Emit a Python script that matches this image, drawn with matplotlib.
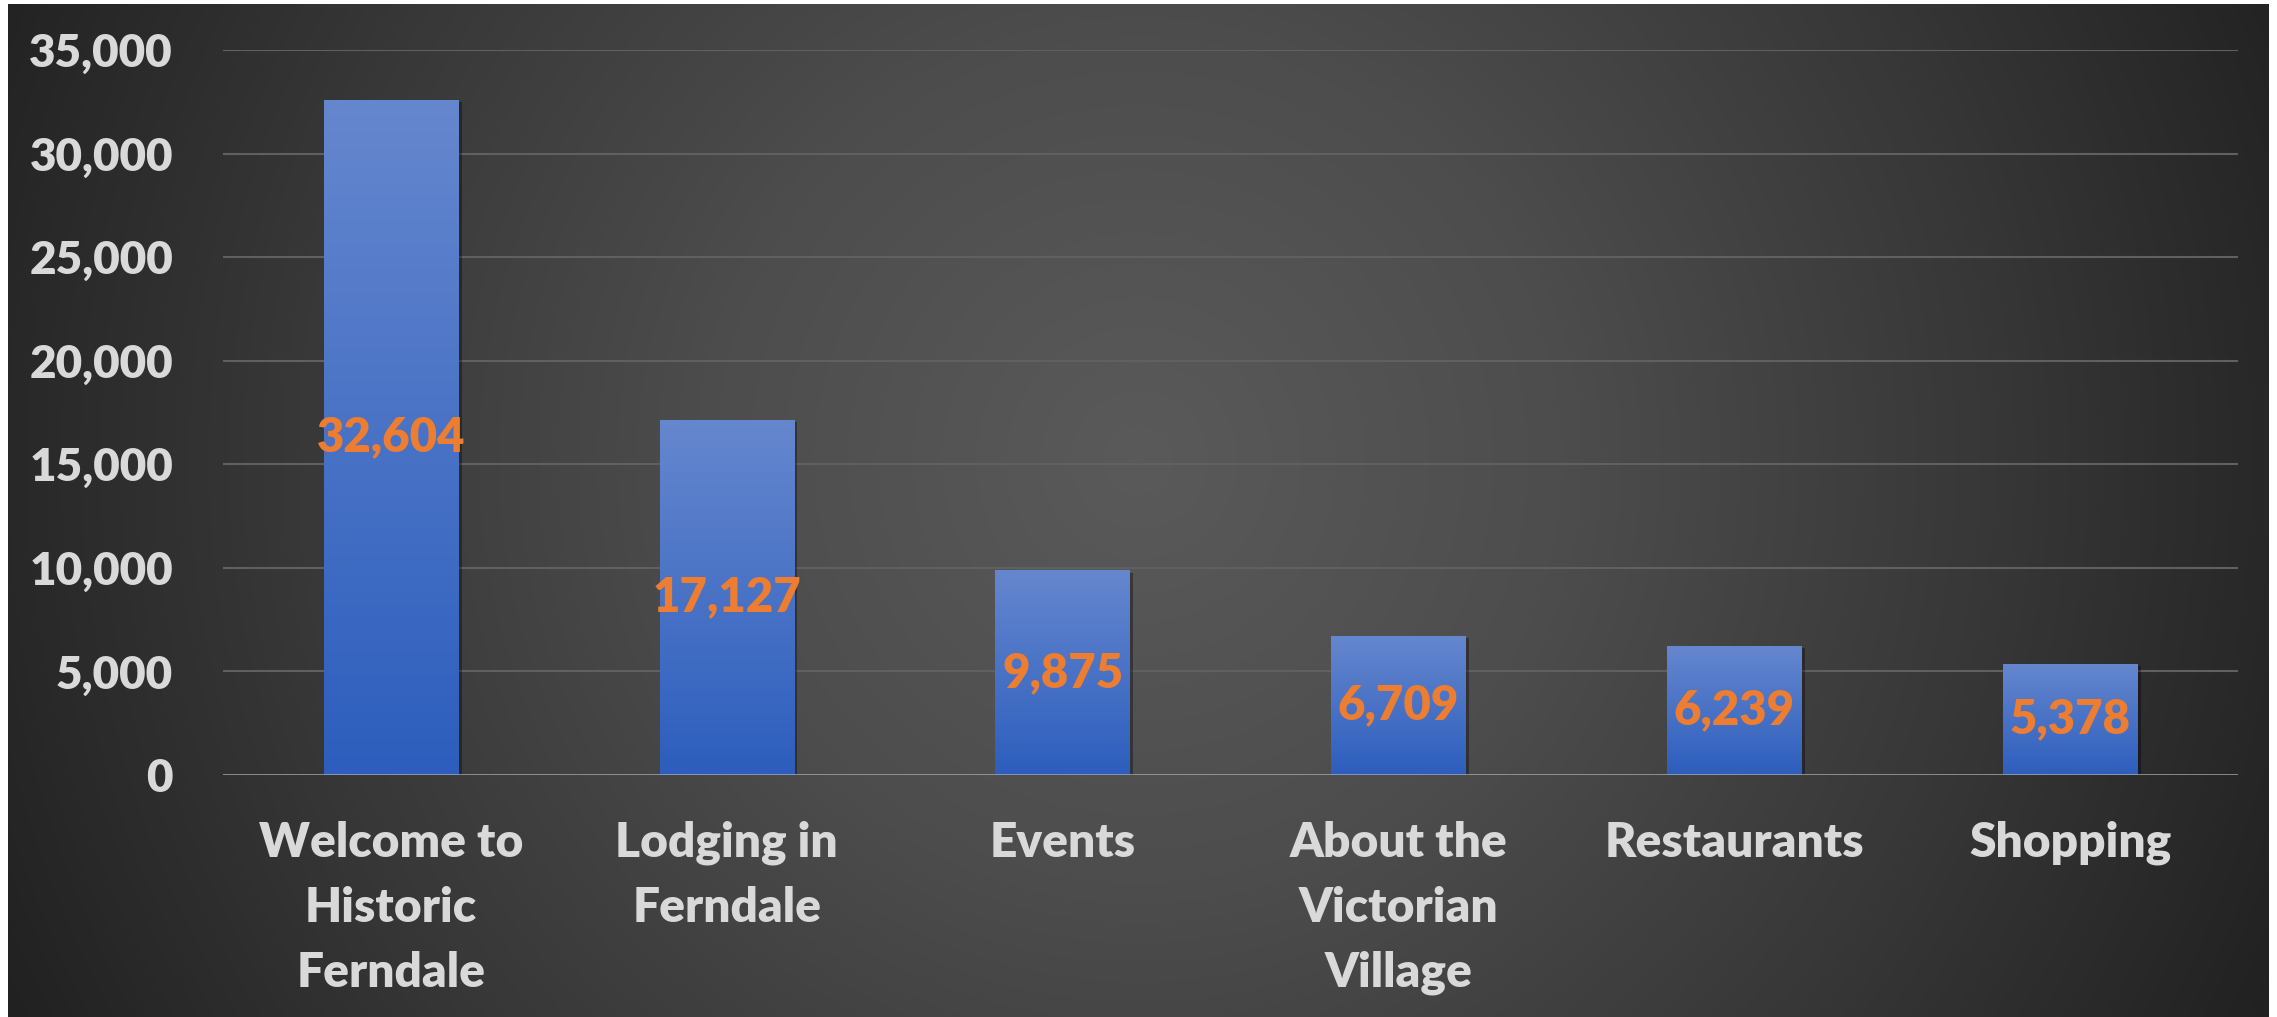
import numpy as np
import matplotlib
matplotlib.use("Agg")
import matplotlib.pyplot as plt
from matplotlib import patheffects
from matplotlib.colors import LinearSegmentedColormap

# Page visits per section of the site
categories = ["Welcome to\nHistoric\nFerndale", "Lodging in\nFerndale", "Events",
              "About the\nVictorian\nVillage", "Restaurants", "Shopping"]
visits = [32604, 17127, 9875, 6709, 6239, 5378]
y_ticks = [0, 5000, 10000, 15000, 20000, 25000, 30000, 35000]

W, H, DPI = 2277, 1017, 100
FONT = "Lato"
WEIGHT = "heavy"
TEXT_COLOR = "#D9D9D9"
LABEL_COLOR = "#ED7D31"
BAR_TOP = "#6587CE"
BAR_BOTTOM = "#2D5EBD"

fig = plt.figure(figsize=(W / DPI, H / DPI), dpi=DPI, facecolor="white")

# Dark radial backdrop
bg = fig.add_axes([8 / W, 0, (W - 16) / W, (H - 4) / H], zorder=0)
bw, bh = W - 16, H - 4
yy, xx = np.mgrid[0:bh, 0:bw]
cx, cy = 0.5 * bw, 0.45 * bh
r = np.hypot(xx - cx, yy - cy)
r = r / r.max()
bg_cmap = LinearSegmentedColormap.from_list("bg", ["#5A5A5A", "#4D4D4D", "#383838", "#212121"])
bg.imshow(r, cmap=bg_cmap, vmin=0, vmax=1, aspect="auto", interpolation="bilinear")
bg.set_axis_off()

ax = fig.add_axes([223 / W, 1 - 775 / H, (2238 - 223) / W, (775 - 50) / H], zorder=1)
ax.set_facecolor("none")

x = np.arange(len(categories))
bar_w = 0.40
bars = ax.bar(x, visits, width=bar_w, color=BAR_BOTTOM, zorder=3,
              path_effects=[patheffects.SimplePatchShadow(offset=(2.5, -1.5), alpha=0.35,
                                                          shadow_rgbFace="black"),
                            patheffects.Normal()])

# Vertical gradient inside each bar
bar_cmap = LinearSegmentedColormap.from_list("bar", [BAR_BOTTOM, BAR_TOP])
grad = np.linspace(0, 1, 256).reshape(-1, 1)
for b in bars:
    x0, w, h = b.get_x(), b.get_width(), b.get_height()
    im = ax.imshow(grad, cmap=bar_cmap, origin="lower", aspect="auto",
                   extent=(x0, x0 + w, 0, h), zorder=4, interpolation="bilinear")
    im.set_clip_path(b)

for xi, v in zip(x, visits):
    ax.text(xi, v / 2, f"{v:,}", ha="center", va="center", color=LABEL_COLOR,
            fontsize=34, fontweight=WEIGHT, family=FONT, zorder=6)

ax.set_xlim(-0.5, len(categories) - 0.5)
ax.set_ylim(0, 35000)
ax.set_yticks(y_ticks)
ax.set_yticklabels([f"{t:,}" for t in y_ticks])
ax.set_xticks(x)
ax.set_xticklabels(categories, linespacing=1.58)

for lbl in ax.get_yticklabels():
    lbl.set_family(FONT)
    lbl.set_fontweight(WEIGHT)
    lbl.set_color(TEXT_COLOR)
    lbl.set_fontsize(33)
for lbl in ax.get_xticklabels():
    lbl.set_family(FONT)
    lbl.set_fontweight(WEIGHT)
    lbl.set_color(TEXT_COLOR)
    lbl.set_fontsize(34.5)

ax.tick_params(axis="y", length=0, pad=36)
ax.tick_params(axis="x", length=0, pad=33)

for t in y_ticks[1:]:
    ax.axhline(t, color="#606060", lw=1.5, zorder=1)
ax.axhline(0, color="#A6A6A6", lw=1.8, zorder=5)

for s in ax.spines.values():
    s.set_visible(False)

fig.savefig("out.png", dpi=DPI, facecolor="white")
